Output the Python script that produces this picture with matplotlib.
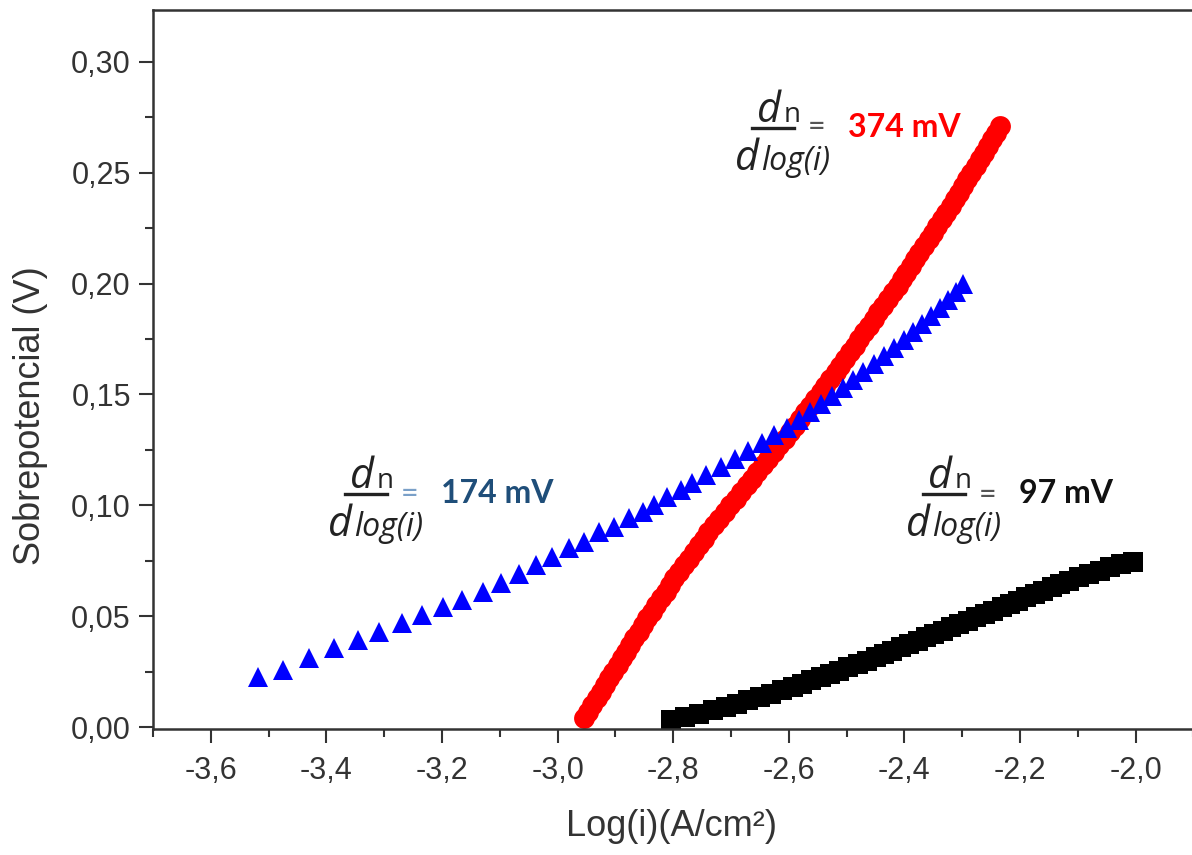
import matplotlib
matplotlib.use('Agg')
import matplotlib.pyplot as plt
from matplotlib.ticker import MultipleLocator, FuncFormatter
from matplotlib.lines import Line2D

# overpotential (V) vs log of current density, three electrodes
red_logi = [-2.954, -2.947, -2.940, -2.932, -2.925, -2.918, -2.911, -2.904, -2.896, -2.889,
            -2.882, -2.875, -2.868, -2.860, -2.852, -2.845, -2.837, -2.829, -2.821, -2.813,
            -2.806, -2.798, -2.790, -2.781, -2.773, -2.764, -2.756, -2.747, -2.739, -2.730,
            -2.721, -2.711, -2.702, -2.692, -2.683, -2.673, -2.664, -2.655, -2.645, -2.636,
            -2.626, -2.617, -2.607, -2.598, -2.590, -2.581, -2.572, -2.563, -2.554, -2.545,
            -2.537, -2.528, -2.519, -2.511, -2.503, -2.494, -2.486, -2.478, -2.470, -2.461,
            -2.453, -2.445, -2.437, -2.428, -2.420, -2.412, -2.404, -2.397, -2.389, -2.381,
            -2.374, -2.366, -2.358, -2.351, -2.343, -2.335, -2.328, -2.320, -2.312, -2.305,
            -2.298, -2.291, -2.284, -2.277, -2.270, -2.262, -2.255, -2.248, -2.241, -2.234]
red_eta = [0.004, 0.007, 0.010, 0.013, 0.016, 0.019, 0.022, 0.025, 0.028, 0.031,
           0.034, 0.037, 0.040, 0.043, 0.046, 0.049, 0.052, 0.055, 0.058, 0.061,
           0.064, 0.067, 0.070, 0.073, 0.076, 0.079, 0.082, 0.085, 0.088, 0.091,
           0.094, 0.097, 0.100, 0.103, 0.106, 0.109, 0.112, 0.115, 0.118, 0.121,
           0.124, 0.127, 0.130, 0.133, 0.136, 0.139, 0.142, 0.145, 0.148, 0.151,
           0.154, 0.157, 0.160, 0.163, 0.166, 0.169, 0.172, 0.175, 0.178, 0.181,
           0.184, 0.187, 0.190, 0.193, 0.196, 0.199, 0.202, 0.205, 0.208, 0.211,
           0.214, 0.217, 0.220, 0.223, 0.226, 0.229, 0.232, 0.235, 0.238, 0.241,
           0.244, 0.247, 0.250, 0.253, 0.256, 0.259, 0.262, 0.265, 0.268, 0.271]

blue_logi = [-3.519, -3.476, -3.430, -3.387, -3.346, -3.309, -3.270, -3.234, -3.199, -3.165,
             -3.130, -3.098, -3.067, -3.038, -3.009, -2.980, -2.954, -2.928, -2.902, -2.876,
             -2.853, -2.833, -2.810, -2.787, -2.767, -2.743, -2.717, -2.693, -2.670, -2.647,
             -2.625, -2.603, -2.583, -2.564, -2.545, -2.526, -2.507, -2.489, -2.471, -2.453,
             -2.435, -2.418, -2.401, -2.385, -2.369, -2.354, -2.339, -2.325, -2.311, -2.298]
blue_eta = [0.0227, 0.0257, 0.0310, 0.0355, 0.0392, 0.0430, 0.0470, 0.0505, 0.0543, 0.0573,
            0.0610, 0.0648, 0.0690, 0.0731, 0.0768, 0.0806, 0.0836, 0.0881, 0.0903, 0.0941,
            0.0971, 0.1001, 0.1039, 0.1069, 0.1099, 0.1135, 0.1171, 0.1207, 0.1243, 0.1279,
            0.1315, 0.1351, 0.1387, 0.1423, 0.1459, 0.1495, 0.1531, 0.1567, 0.1603, 0.1639,
            0.1675, 0.1711, 0.1747, 0.1783, 0.1819, 0.1855, 0.1891, 0.1927, 0.1963, 0.2000]

black_logi = [-2.804, -2.780, -2.756, -2.732, -2.708, -2.689, -2.670, -2.650, -2.631, -2.612,
              -2.593, -2.577, -2.561, -2.545, -2.529, -2.513, -2.497, -2.481, -2.465, -2.450,
              -2.435, -2.421, -2.406, -2.392, -2.377, -2.363, -2.348, -2.334, -2.319, -2.305,
              -2.290, -2.276, -2.261, -2.247, -2.232, -2.218, -2.203, -2.189, -2.174, -2.160,
              -2.145, -2.131, -2.116, -2.098, -2.080, -2.062, -2.044, -2.026, -2.005]
black_eta = [0.0030, 0.0045, 0.0060, 0.0075, 0.0090, 0.0105, 0.0120, 0.0135, 0.0150, 0.0165,
             0.0180, 0.0195, 0.0210, 0.0225, 0.0240, 0.0255, 0.0270, 0.0285, 0.0300, 0.0315,
             0.0330, 0.0345, 0.0360, 0.0375, 0.0390, 0.0405, 0.0420, 0.0435, 0.0450, 0.0465,
             0.0480, 0.0495, 0.0510, 0.0525, 0.0540, 0.0555, 0.0570, 0.0585, 0.0600, 0.0615,
             0.0630, 0.0645, 0.0660, 0.0675, 0.0690, 0.0705, 0.0720, 0.0735, 0.0745]

# Tafel slopes written next to each curve
slope_labels = ['374 mV', '174 mV', '97 mV']

W, H = 1192, 855
plt.rcParams['font.family'] = ['Liberation Sans', 'DejaVu Sans']
plt.rcParams['axes.unicode_minus'] = False

fig = plt.figure(figsize=(W / 100, H / 100), dpi=100)
ax = fig.add_axes([0.1284, 0.1468, 0.8728, 0.8415])

ax.plot(black_logi, black_eta, ls='none', marker='s', ms=14.5, color='black', mew=0)
ax.plot(red_logi, red_eta, ls='none', marker='o', ms=15, color='#ff0000', mew=0)
ax.plot(blue_logi, blue_eta, ls='none', marker='^', ms=14.5, color='#0000ff', mew=0)

ax.set_xlim(-3.7, -1.9)
ax.set_ylim(-0.0011, 0.3234)
ax.xaxis.set_major_locator(MultipleLocator(0.2))
ax.xaxis.set_minor_locator(MultipleLocator(0.1))
ax.yaxis.set_major_locator(MultipleLocator(0.05))
ax.yaxis.set_minor_locator(MultipleLocator(0.025))
ax.xaxis.set_major_formatter(FuncFormatter(lambda v, p: f'{v:.1f}'.replace('.', ',')))
ax.yaxis.set_major_formatter(FuncFormatter(lambda v, p: f'{v:.2f}'.replace('.', ',')))

axis_col = '#333333'
for side in ['left', 'bottom', 'top']:
    ax.spines[side].set_linewidth(1.8)
    ax.spines[side].set_color(axis_col)
ax.spines['right'].set_visible(False)
ax.tick_params(which='both', direction='out', color=axis_col, width=1.5,
               labelsize=22, labelcolor=axis_col, top=False, right=False)
ax.tick_params(which='major', length=10)
ax.tick_params(which='minor', length=5.5)
ax.tick_params(axis='y', pad=6)
ax.tick_params(axis='x', pad=9)

ax.set_xlabel('Log(i)(A/cm²)', fontsize=26, color=axis_col)
ax.set_ylabel('Sobrepotencial (V)', fontsize=26, color=axis_col)
ax.xaxis.set_label_coords(0.498, -0.11)
ax.yaxis.set_label_coords(-0.101, 0.436)


def fx(px):
    return px / W


def fy(py):
    return 1 - py / H


def slope_note(bx, by, value, color, eq_color, eq_dy):
    # d(eta)/d log(i) fraction; (bx, by) is the left end of the bar, in pixels
    ink = '#222222'
    frac_font = 'Open Sans'
    fig.text(fx(bx + 5), fy(by - 6), 'd', family=frac_font, style='italic',
             fontsize=30, color=ink, va='baseline')
    fig.text(fx(bx + 32), fy(by - 6), 'n', family=frac_font, fontsize=20,
             color=ink, va='baseline')
    fig.add_artist(Line2D([fx(bx), fx(bx + 42)], [fy(by), fy(by)],
                          transform=fig.transFigure, color=ink, lw=2.4))
    fig.text(fx(bx - 17), fy(by + 42), 'd', family=frac_font, style='italic',
             fontsize=30, color=ink, va='baseline')
    fig.text(fx(bx + 9), fy(by + 42), 'log(i)', family=frac_font, style='italic',
             fontsize=23, color=ink, va='baseline')
    fig.text(fx(bx + 56), fy(by + eq_dy), '=', family='Lato', fontsize=22,
             color=eq_color, va='center')
    fig.text(fx(bx + 96), fy(by + 9), value, family='Lato', weight='bold',
             fontsize=23, color=color, va='baseline')


slope_note(752, 128, slope_labels[0], '#ff0000', '#555555', -1)
slope_note(345, 494, slope_labels[1], '#1f4e79', '#7aa0c8', 0)
slope_note(923, 494, slope_labels[2], '#111111', '#555555', 1)

fig.savefig('out.png', dpi=100, facecolor='white')
